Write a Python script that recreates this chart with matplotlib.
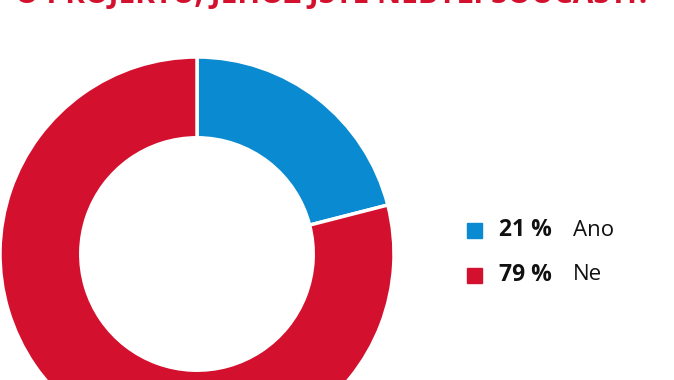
import matplotlib
matplotlib.use("Agg")
import matplotlib.pyplot as plt
from matplotlib.patches import Rectangle

title = "O PROJEKTU, JEHOŽ JSTE NEBYLI SOUČÁSTÍ?"
labels = ["Ano", "Ne"]
values = [21, 79]
colors = ["#0A8AD0", "#D3112F"]

plt.rcParams['font.family'] = ['Open Sans', 'DejaVu Sans']

W, H = 674, 380
fig = plt.figure(figsize=(W / 100, H / 100), dpi=100)

# donut: centre (197, 254) px, outer radius 197 px
cx, cy, r = 197, 254, 197
ax = fig.add_axes([(cx - r) / W, (H - cy - r) / H, 2 * r / W, 2 * r / H])
ax.pie(values, colors=colors, startangle=90, counterclock=False,
       radius=1.0, wedgeprops=dict(width=0.41, edgecolor='white', linewidth=2.5))
ax.set_xlim(-1, 1)
ax.set_ylim(-1, 1)
ax.set_aspect('equal')
ax.axis('off')

# title, cut off at the top edge
fig.text(333 / W, (H - 3) / H, title, color=colors[1], fontsize=21.5, fontweight='bold',
         ha='center', va='baseline')

# legend
ys = [230, 275]
for lab, v, c, y in zip(labels, values, colors, ys):
    fig.patches.append(Rectangle((467 / W, (H - y - 8) / H), 15 / W, 15 / H,
                                 transform=fig.transFigure, color=c))
    fig.text(499 / W, (H - y) / H, f"{v} %", fontsize=16.5, fontweight='bold',
             color='#111111', va='center')
    fig.text(573 / W, (H - y) / H, lab, fontsize=16, color='#111111', va='center')

fig.savefig("out.png", dpi=100)
